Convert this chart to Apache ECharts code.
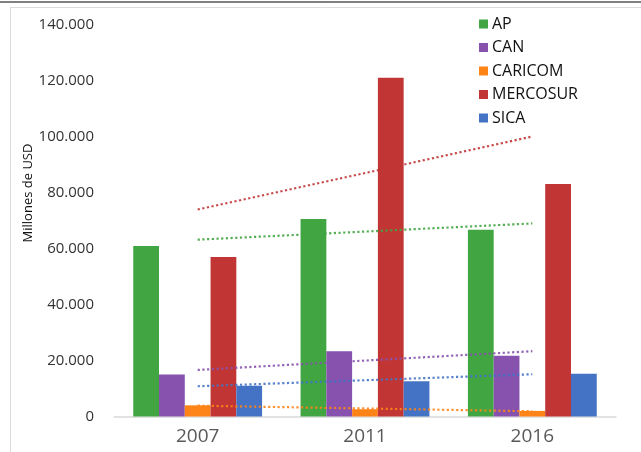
<!DOCTYPE html>
<html>
<head>
<meta charset="utf-8">
<script src="https://cdn.jsdelivr.net/npm/echarts@6/dist/echarts.min.js"></script>
<style>html,body{margin:0;padding:0;background:#fff;}#c{width:641px;height:452px;}</style>
</head>
<body>
<div id="c"></div>
<script>
var categories = ['2007', '2011', '2016'];
var seriesNames = ['AP', 'CAN', 'CARICOM', 'MERCOSUR', 'SICA'];
var AP = [61000, 70600, 66800];
var CAN = [15000, 23300, 21700];
var CARICOM = [4000, 2600, 2000];
var MERCOSUR = [57000, 121100, 83100];
var SICA = [11000, 12600, 15300];
var yTicks = { min: 0, max: 140000, interval: 20000 };
var colors = ['#41A541', '#8652AE', '#FF8417', '#C13535', '#4473C5'];

var values = [AP, CAN, CARICOM, MERCOSUR, SICA];

function linearTrend(arr) {
  var n = arr.length, sx = 0, sy = 0, sxy = 0, sxx = 0;
  for (var i = 0; i < n; i++) { sx += i; sy += arr[i]; sxy += i * arr[i]; sxx += i * i; }
  var b = (n * sxy - sx * sy) / (n * sxx - sx * sx);
  var a = (sy - b * sx) / n;
  return arr.map(function (_, i) { return a + b * i; });
}

function fmt(v) {
  return String(v).replace(/\B(?=(\d{3})+(?!\d))/g, '.');
}

var series = [];
values.forEach(function (arr, k) {
  series.push({
    name: seriesNames[k], type: 'bar', data: arr,
    barGap: '0%', barCategoryGap: '23%',
    itemStyle: { color: colors[k] }, z: 2
  });
});
values.forEach(function (arr, k) {
  series.push({
    name: seriesNames[k] + ' tendencia', type: 'line', data: linearTrend(arr),
    symbol: 'none', silent: true, z: 5,
    lineStyle: { color: colors[k], width: 2.2, type: [2.2, 2.5], opacity: 0.9 }
  });
});

var chart = echarts.init(document.getElementById('c'), null, { renderer: 'canvas' });
chart.setOption({
  animation: false,
  backgroundColor: '#fff',
  grid: { left: 114, right: 25, top: 25, bottom: 35.5 },
  legend: {
    data: seriesNames, orient: 'vertical', left: 474, top: 11,
    itemWidth: 9, itemHeight: 9, itemGap: 7.5, icon: 'rect',
    textStyle: { fontFamily: 'Open Sans', fontSize: 16, color: '#111', padding: [0, 0, 0, -1] }
  },
  xAxis: {
    type: 'category', data: categories,
    axisLine: { lineStyle: { color: '#d9d9d9', width: 1.5 } },
    axisTick: { show: false },
    axisLabel: { fontFamily: 'Open Sans', fontSize: 19, color: '#595959', margin: 11 }
  },
  yAxis: {
    type: 'value', min: yTicks.min, max: yTicks.max, interval: yTicks.interval,
    splitLine: { show: false }, axisLine: { show: false }, axisTick: { show: false },
    axisLabel: { fontFamily: 'Open Sans', fontSize: 15, color: '#333', margin: 20, formatter: fmt }
  },
  graphic: [
    { type: 'rect', shape: { x: 0, y: 1, width: 641, height: 2 }, style: { fill: '#808080' }, silent: true },
    { type: 'line', shape: { x1: 10, y1: 7.5, x2: 641, y2: 7.5 }, style: { stroke: '#dcdcdc', lineWidth: 1 }, silent: true },
    { type: 'line', shape: { x1: 10.5, y1: 7, x2: 10.5, y2: 452 }, style: { stroke: '#dcdcdc', lineWidth: 1 }, silent: true },
    { type: 'text', x: 28, y: 193, rotation: Math.PI / 2,
      style: { text: 'Millones de USD', fontFamily: 'Open Sans', fontSize: 13, fill: '#111',
               textAlign: 'center', textVerticalAlign: 'middle' }, silent: true }
  ],
  series: series
});
</script>
</body>
</html>
